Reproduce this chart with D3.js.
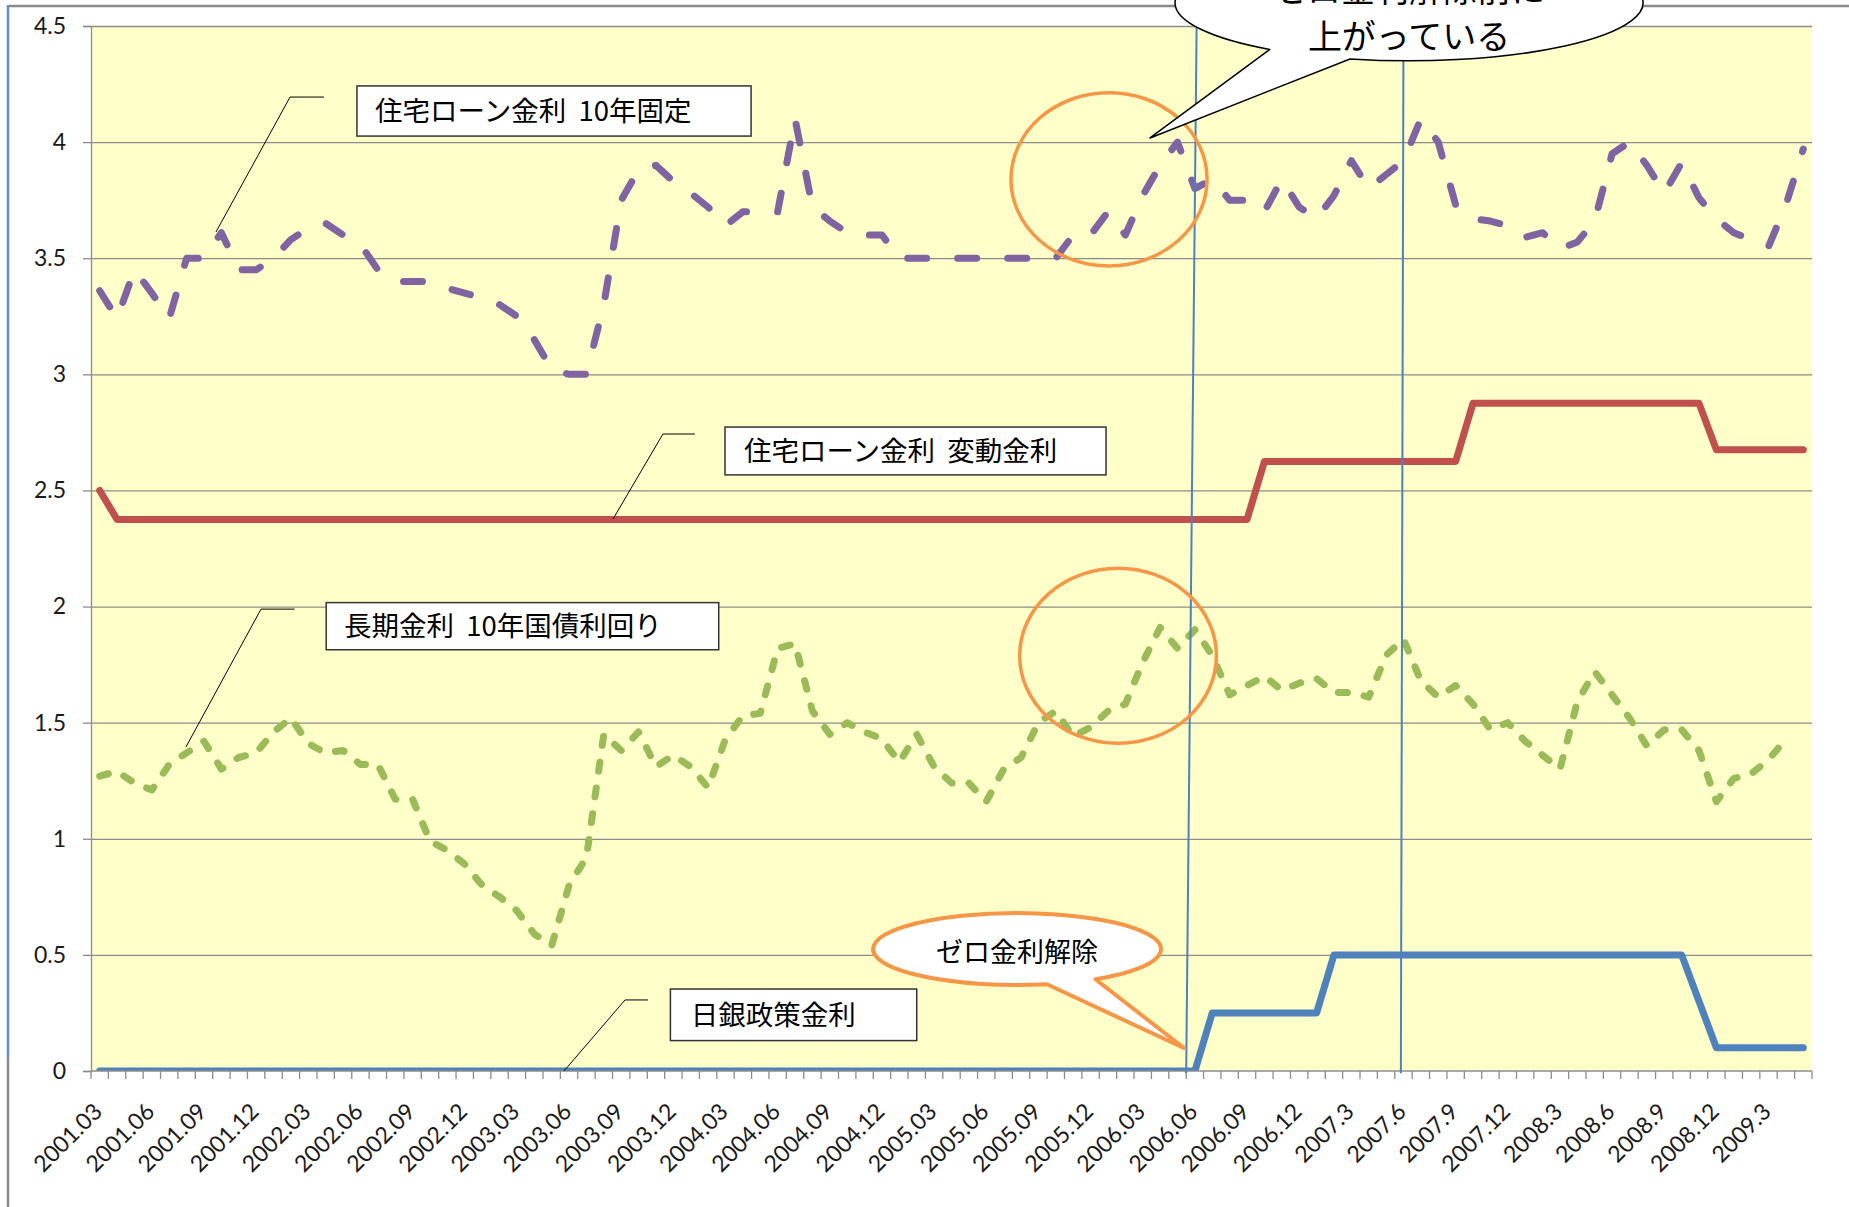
<!DOCTYPE html>
<html>
<head>
<meta charset="utf-8">
<script src="https://d3js.org/d3.v7.min.js"></script>
<style>
body { margin: 0; background: #fff; }
svg { display: block; }
.num { font-family: Lato, "Open Sans", sans-serif; fill: #1a1a1a; }
.jp { font-family: "Noto Sans CJK JP", sans-serif; fill: #000; white-space: pre; }
</style>
</head>
<body>
<script>

// monthly categories, 2001.03 - 2009.05
var months = [
  "2001.03","2001.04","2001.05","2001.06","2001.07","2001.08","2001.09","2001.10","2001.11","2001.12",
  "2002.01","2002.02","2002.03","2002.04","2002.05","2002.06","2002.07","2002.08","2002.09","2002.10","2002.11","2002.12",
  "2003.01","2003.02","2003.03","2003.04","2003.05","2003.06","2003.07","2003.08","2003.09","2003.10","2003.11","2003.12",
  "2004.01","2004.02","2004.03","2004.04","2004.05","2004.06","2004.07","2004.08","2004.09","2004.10","2004.11","2004.12",
  "2005.01","2005.02","2005.03","2005.04","2005.05","2005.06","2005.07","2005.08","2005.09","2005.10","2005.11","2005.12",
  "2006.01","2006.02","2006.03","2006.04","2006.05","2006.06","2006.07","2006.08","2006.09","2006.10","2006.11","2006.12",
  "2007.01","2007.02","2007.03","2007.04","2007.05","2007.06","2007.07","2007.08","2007.09","2007.10","2007.11","2007.12",
  "2008.01","2008.02","2008.03","2008.04","2008.05","2008.06","2008.07","2008.08","2008.09","2008.10","2008.11","2008.12",
  "2009.01","2009.02","2009.03","2009.04","2009.05"
];

// labels shown under every third month
var tickLabels = [
  "2001.03","2001.06","2001.09","2001.12","2002.03","2002.06","2002.09","2002.12",
  "2003.03","2003.06","2003.09","2003.12","2004.03","2004.06","2004.09","2004.12",
  "2005.03","2005.06","2005.09","2005.12","2006.03","2006.06","2006.09","2006.12",
  "2007.3","2007.6","2007.9","2007.12","2008.3","2008.6","2008.9","2008.12","2009.3"
];

var yTicks = [0, 0.5, 1, 1.5, 2, 2.5, 3, 3.5, 4, 4.5];

// 住宅ローン金利 10年固定
var fixed10 = [
  3.36, 3.24, 3.45, 3.35, 3.24, 3.5, 3.5, 3.61, 3.45, 3.45,
  3.5, 3.58, 3.63, 3.65, 3.6, 3.56, 3.45, 3.4, 3.4, 3.4,
  3.37, 3.35, 3.33, 3.3, 3.25, 3.15, 3.02, 3.0, 3.0, 3.3,
  3.75, 3.88, 3.9, 3.83, 3.78, 3.72, 3.64, 3.7, 3.7, 3.7,
  4.1, 3.72, 3.66, 3.61, 3.6, 3.6, 3.5, 3.5, 3.5, 3.5,
  3.5, 3.5, 3.5, 3.5, 3.5, 3.5, 3.6, 3.6, 3.7, 3.6,
  3.77, 3.9, 4.0, 3.8, 3.84, 3.75, 3.75, 3.7, 3.84, 3.72,
  3.67, 3.77, 3.92, 3.8, 3.86, 3.92, 4.1, 4.0, 3.73, 3.67,
  3.66, 3.64, 3.59, 3.61, 3.54, 3.57, 3.66, 3.95, 4.0, 3.9,
  3.78, 3.91, 3.76, 3.67, 3.61, 3.58, 3.55, 3.73, 3.97
];

// 住宅ローン金利 変動金利
var floating = [
  2.5, 2.375, 2.375, 2.375, 2.375, 2.375, 2.375, 2.375, 2.375, 2.375,
  2.375, 2.375, 2.375, 2.375, 2.375, 2.375, 2.375, 2.375, 2.375, 2.375,
  2.375, 2.375, 2.375, 2.375, 2.375, 2.375, 2.375, 2.375, 2.375, 2.375,
  2.375, 2.375, 2.375, 2.375, 2.375, 2.375, 2.375, 2.375, 2.375, 2.375,
  2.375, 2.375, 2.375, 2.375, 2.375, 2.375, 2.375, 2.375, 2.375, 2.375,
  2.375, 2.375, 2.375, 2.375, 2.375, 2.375, 2.375, 2.375, 2.375, 2.375,
  2.375, 2.375, 2.375, 2.375, 2.375, 2.375, 2.375, 2.625, 2.625, 2.625,
  2.625, 2.625, 2.625, 2.625, 2.625, 2.625, 2.625, 2.625, 2.625, 2.875,
  2.875, 2.875, 2.875, 2.875, 2.875, 2.875, 2.875, 2.875, 2.875, 2.875,
  2.875, 2.875, 2.875, 2.675, 2.675, 2.675, 2.675, 2.675, 2.675
];

// 長期金利 10年国債利回り
var jgb10 = [
  1.27, 1.29, 1.24, 1.21, 1.32, 1.37, 1.42, 1.30, 1.35, 1.37,
  1.46, 1.52, 1.41, 1.37, 1.38, 1.32, 1.32, 1.17, 1.17, 0.99,
  0.95, 0.89, 0.80, 0.75, 0.69, 0.59, 0.54, 0.80, 0.92, 1.45,
  1.38, 1.46, 1.31, 1.36, 1.31, 1.22, 1.43, 1.53, 1.54, 1.82,
  1.84, 1.55, 1.45, 1.50, 1.46, 1.43, 1.33, 1.45, 1.31, 1.24,
  1.24, 1.16, 1.30, 1.35, 1.50, 1.55, 1.44, 1.48, 1.55, 1.58,
  1.76, 1.91, 1.82, 1.90, 1.79, 1.62, 1.66, 1.70, 1.64, 1.67,
  1.69, 1.63, 1.63, 1.61, 1.79, 1.86, 1.68, 1.61, 1.66, 1.58,
  1.47, 1.50, 1.42, 1.36, 1.30, 1.59, 1.72, 1.62, 1.52, 1.40,
  1.47, 1.47, 1.38, 1.16, 1.26, 1.28, 1.34, 1.43
];

// 日銀政策金利
var bojRate = [
  0, 0, 0, 0, 0, 0, 0, 0, 0, 0,
  0, 0, 0, 0, 0, 0, 0, 0, 0, 0,
  0, 0, 0, 0, 0, 0, 0, 0, 0, 0,
  0, 0, 0, 0, 0, 0, 0, 0, 0, 0,
  0, 0, 0, 0, 0, 0, 0, 0, 0, 0,
  0, 0, 0, 0, 0, 0, 0, 0, 0, 0,
  0, 0, 0, 0, 0.25, 0.25, 0.25, 0.25, 0.25, 0.25,
  0.25, 0.5, 0.5, 0.5, 0.5, 0.5, 0.5, 0.5, 0.5, 0.5,
  0.5, 0.5, 0.5, 0.5, 0.5, 0.5, 0.5, 0.5, 0.5, 0.5,
  0.5, 0.5, 0.3, 0.1, 0.1, 0.1, 0.1, 0.1, 0.1
];

var W = 1849, H = 1207;
var margin = {top: 26, right: 37, bottom: 136, left: 91};
var width = W - margin.left - margin.right,
    height = H - margin.top - margin.bottom;

var svg = d3.select("body").append("svg")
    .attr("width", W)
    .attr("height", H);

// outer chart frame (only its top and left edges are inside the picture)
svg.append("line").attr("x1", 9).attr("x2", W).attr("y1", 6).attr("y2", 6)
    .attr("stroke", "#8a8a8a").attr("stroke-width", 2.5);
svg.append("line").attr("x1", 8).attr("x2", 8).attr("y1", 5).attr("y2", 1057)
    .attr("stroke", "#5f8fcf").attr("stroke-width", 2.5);
svg.append("line").attr("x1", 8).attr("x2", 8).attr("y1", 1057).attr("y2", H)
    .attr("stroke", "#8a8a8a").attr("stroke-width", 2.5);

var g = svg.append("g")
    .attr("transform", "translate(" + margin.left + "," + margin.top + ")");

var x = d3.scaleBand().domain(months).range([0, width]);
var y = d3.scaleLinear().domain([0, 4.5]).range([height, 0]);
var bw = x.bandwidth();

// position of a (fractional) month index, used for points and notes
function xi(i) { return x(months[0]) + bw * (i + 0.5); }

g.append("rect")
    .attr("width", width).attr("height", height)
    .attr("fill", "#ffffc9");

// gridlines
var grid = g.append("g")
    .call(d3.axisLeft(y).tickValues(yTicks.slice(1)).tickSize(-width).tickFormat(""));
grid.select(".domain").remove();
grid.selectAll("line").attr("stroke", "#8c8c8c").attr("stroke-width", 1.3);

// series
g.append("clipPath").attr("id", "plotclip")
  .append("rect").attr("width", width).attr("height", height);

var line = d3.line()
    .x(function(d, i) { return x(months[i]) + bw / 2; })
    .y(function(d) { return y(d); });

var series = [
  {values: bojRate,  color: "#4f81bd", dash: null},
  {values: jgb10,    color: "#9bbb59", dash: "9 17"},
  {values: floating, color: "#c0504d", dash: null},
  {values: fixed10,  color: "#8064a2", dash: "19 31"}
];

g.append("g").attr("clip-path", "url(#plotclip)")
  .selectAll("path")
  .data(series)
  .enter().append("path")
    .attr("d", function(s) { return line(s.values); })
    .attr("fill", "none")
    .attr("stroke", function(s) { return s.color; })
    .attr("stroke-width", 7)
    .attr("stroke-linejoin", "round")
    .attr("stroke-linecap", "round")
    .attr("stroke-dasharray", function(s) { return s.dash; });

// y axis
var yAxis = g.append("g")
    .call(d3.axisLeft(y).tickValues(yTicks).tickSize(8).tickPadding(17)
      .tickFormat(function(d) { return d; }));
yAxis.select(".domain").attr("stroke", "#8c8c8c").attr("stroke-width", 1.3);
yAxis.selectAll("line").attr("stroke", "#8c8c8c").attr("stroke-width", 1.3);
yAxis.selectAll("text").attr("class", "num").style("font-size", "23px");

// x axis: a tick at every month boundary, a label every third month
var xAxis = g.append("g").attr("transform", "translate(0," + height + ")");
xAxis.append("line").attr("x1", 0).attr("x2", width)
    .attr("stroke", "#8c8c8c").attr("stroke-width", 1.3);
xAxis.selectAll(".tk")
  .data(months.concat(["end"]))
  .enter().append("line")
    .attr("x1", function(d) { return d === "end" ? width : x(d); })
    .attr("x2", function(d) { return d === "end" ? width : x(d); })
    .attr("y1", 0).attr("y2", 8)
    .attr("stroke", "#8c8c8c").attr("stroke-width", 1.3);

var tickCats = months.filter(function(m, i) { return i % 3 === 0; });
xAxis.selectAll(".lbl")
  .data(tickCats)
  .enter().append("text")
    .attr("class", "num")
    .style("font-size", "23px")
    .attr("text-anchor", "end")
    .attr("transform", function(d) {
      return "translate(" + (x(d) + bw / 2 + 4) + ",42) rotate(-45)";
    })
    .text(function(d, i) { return tickLabels[i]; });

// vertical marker lines
var markers = [
  {top: 63.1, bottom: 62.5},
  {top: 75.0, bottom: 74.85}
];
g.selectAll(".marker")
  .data(markers)
  .enter().append("line")
    .attr("x1", function(d) { return xi(d.top); })
    .attr("y1", y(4.5))
    .attr("x2", function(d) { return xi(d.bottom); })
    .attr("y2", y(-0.01))
    .attr("stroke", "#4f81bd")
    .attr("stroke-width", 2);

// orange circles
var rings = [
  {i: 58.06, v: 3.84, ri: 5.64, rv: 0.373},
  {i: 58.58, v: 1.788, ri: 5.66, rv: 0.377}
];
g.selectAll(".ring")
  .data(rings)
  .enter().append("ellipse")
    .attr("cx", function(d) { return xi(d.i); })
    .attr("cy", function(d) { return y(d.v); })
    .attr("rx", function(d) { return d.ri * bw; })
    .attr("ry", function(d) { return y(0) - y(d.rv); })
    .attr("fill", "none")
    .attr("stroke", "#f79646")
    .attr("stroke-width", 3.5);

// series name boxes with leader lines
var notes = [
  {text: "住宅ローン金利  10年固定", lead: [[6.69, 3.613], [10.95, 4.194], [12.9, 4.194]],
   box: [14.8, 37.47, 4.242, 4.026], tx: 15.84, ty: 4.134},
  {text: "住宅ローン金利  変動金利", lead: [[29.53, 2.377], [32.4, 2.743], [34.24, 2.743]],
   box: [35.97, 57.89, 2.773, 2.567], tx: 37.06, ty: 2.670},
  {text: "長期金利  10年国債利回り", lead: [[4.96, 1.395], [9.28, 1.989], [11.21, 1.989]],
   box: [13.03, 35.61, 2.017, 1.814], tx: 14.05, ty: 1.916},
  {text: "日銀政策金利", lead: [[26.71, 0], [30.22, 0.306], [31.54, 0.306]],
   box: [32.83, 47.0, 0.353, 0.131], tx: 34.0, ty: 0.241}
];
var leader = d3.line()
    .x(function(p) { return xi(p[0]); })
    .y(function(p) { return y(p[1]); });

var note = g.selectAll(".note").data(notes).enter().append("g");
note.append("path")
    .attr("d", function(d) { return leader(d.lead); })
    .attr("fill", "none").attr("stroke", "#000").attr("stroke-width", 1);
note.append("rect")
    .attr("x", function(d) { return xi(d.box[0]); })
    .attr("y", function(d) { return y(d.box[2]); })
    .attr("width", function(d) { return xi(d.box[1]) - xi(d.box[0]); })
    .attr("height", function(d) { return y(d.box[3]) - y(d.box[2]); })
    .attr("fill", "#fff").attr("stroke", "#333").attr("stroke-width", 1.5);
note.append("text")
    .attr("class", "jp")
    .style("font-size", "27.5px")
    .attr("x", function(d) { return xi(d.tx); })
    .attr("y", function(d) { return y(d.ty); })
    .attr("dy", "0.36em")
    .text(function(d) { return d.text; });

// speech bubbles: ellipse plus a pointed tail
function bubblePath(b) {
  var cx = xi(b.i), cy = y(b.v), rx = b.ri * bw, ry = y(0) - y(b.rv);
  var a1 = b.a1 * Math.PI / 180, a2 = b.a2 * Math.PI / 180;
  var p1 = [cx + rx * Math.cos(a1), cy + ry * Math.sin(a1)];
  var p2 = [cx + rx * Math.cos(a2), cy + ry * Math.sin(a2)];
  return "M" + p2[0] + "," + p2[1] +
    "A" + rx + "," + ry + " 0 1 0 " + p1[0] + "," + p1[1] +
    "L" + xi(b.tip[0]) + "," + y(b.tip[1]) + "Z";
}

var bubbles = [
  {i: 52.77, v: 0.525, ri: 8.28, rv: 0.155, a1: 78, a2: 57, tip: [62.37, 0.099],
   stroke: "#f79646", width: 4,
   lines: ["ゼロ金利解除"], size: 27, ly: [0.51]},
  {i: 75.32, v: 4.6, ri: 13.46, rv: 0.25, a1: 126.5, a2: 104.6, tip: [60.42, 4.018],
   stroke: "#000", width: 1.5,
   lines: ["ゼロ金利解除前に", "上がっている"], size: 34, ly: [4.655, 4.452]}
];

var bubble = svg.append("g")
    .attr("transform", "translate(" + margin.left + "," + margin.top + ")")
  .selectAll(".bubble").data(bubbles).enter().append("g");
bubble.append("path")
    .attr("d", bubblePath)
    .attr("fill", "#fff")
    .attr("stroke", function(d) { return d.stroke; })
    .attr("stroke-width", function(d) { return d.width; })
    .attr("stroke-linejoin", "round");
bubble.each(function(d) {
  d3.select(this).selectAll("text")
    .data(d.lines)
    .enter().append("text")
      .attr("class", "jp")
      .style("font-size", d.size + "px")
      .attr("text-anchor", "middle")
      .attr("x", xi(d.i))
      .attr("y", function(t, k) { return y(d.ly[k]); })
      .attr("dy", "0.36em")
      .text(function(t) { return t; });
});

</script>
</body>
</html>
